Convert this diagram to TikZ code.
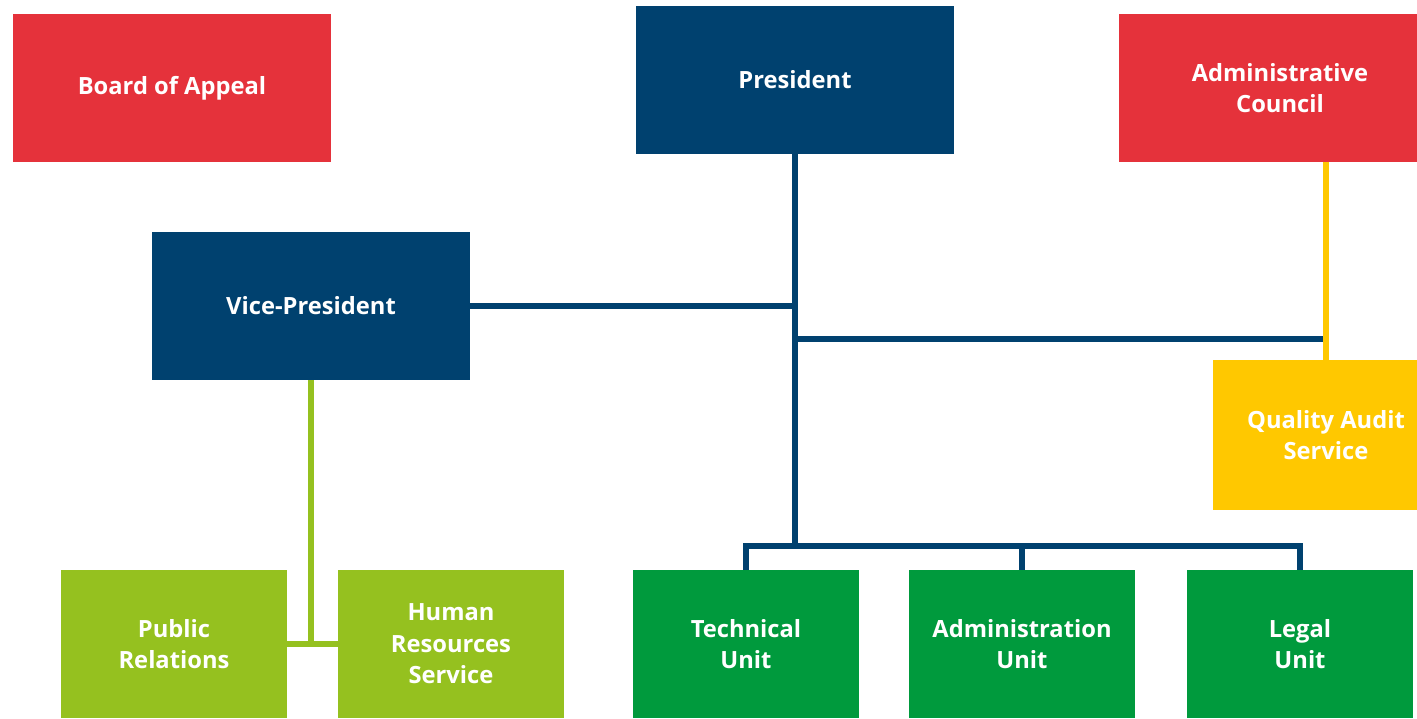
\documentclass[tikz,border=0pt]{standalone}
\usepackage{fontspec}
\setmainfont{Open Sans}
\usetikzlibrary{positioning}
\definecolor{boardred}{HTML}{E5323B}
\definecolor{headblue}{HTML}{00416F}
\definecolor{audityellow}{HTML}{FFC800}
\definecolor{staffgreen}{HTML}{95C11F}
\definecolor{unitgreen}{HTML}{009A3D}

\begin{document}
\begin{tikzpicture}[
                    x=0.02cm,
                    y=-0.02cm,
                    office/.style={
                        rectangle,
                        inner sep=0pt,
                        text=white,
                        font=\bfseries\fontsize{13.5}{18}\selectfont,
                        align=center
                    },
                    wide/.style={office, minimum width=6.36cm, minimum height=2.96cm},
                    narrow/.style={office, minimum width=4.52cm, minimum height=2.96cm},
                    link/.style={line width=3.9pt}
                ]
                \path[use as bounding box, clip] (0,0) rectangle (1417,718);
                \newcommand{\mkunit}[4]{
                    \node (#1) [#2] at (#3) {#4};
                }
                % top row
                \mkunit{appeal}{wide,fill=boardred}{172,88}{Board of Appeal}
                \mkunit{president}{wide,fill=headblue}{795,80}{President}
                \mkunit{council}{wide,fill=boardred,minimum width=6.44cm}{1280,88}{Administrative\\Council}

                \mkunit{vice}{wide,fill=headblue}{311,306}{Vice-President}
                \mkunit{quality}{narrow,fill=audityellow,minimum height=3cm}{1326,435}{Quality Audit\\Service}

                % bottom row
                \mkunit{public}{narrow,fill=staffgreen}{174,644}{Public\\Relations}
                \mkunit{human}{narrow,fill=staffgreen}{451,644}{Human\\Resources\\Service}
                \mkunit{technical}{narrow,fill=unitgreen}{746,644}{Technical\\Unit}
                \mkunit{admin}{narrow,fill=unitgreen}{1022,644}{Administration\\Unit}
                \mkunit{legal}{narrow,fill=unitgreen}{1300,644}{Legal\\Unit}

                \coordinate (bus) at (795,546);
                \coordinate (qjoin) at (795,339);

                \draw[link,headblue]
                (president) -- (bus)
                (vice.east) -- (vice.east -| president.south)
                (qjoin) -- (qjoin -| quality.north)
                (technical.north) |- (bus) -| (legal.north)
                (admin.north) -- (admin.north |- bus)
                ;

                \draw[link,audityellow]
                (quality.north) -- (quality.north |- council.south)
                ;

                \draw[link,staffgreen]
                (vice) -- (vice |- public.east)
                (public.east) -- (human.west)
                ;
            \end{tikzpicture}
\end{document}
